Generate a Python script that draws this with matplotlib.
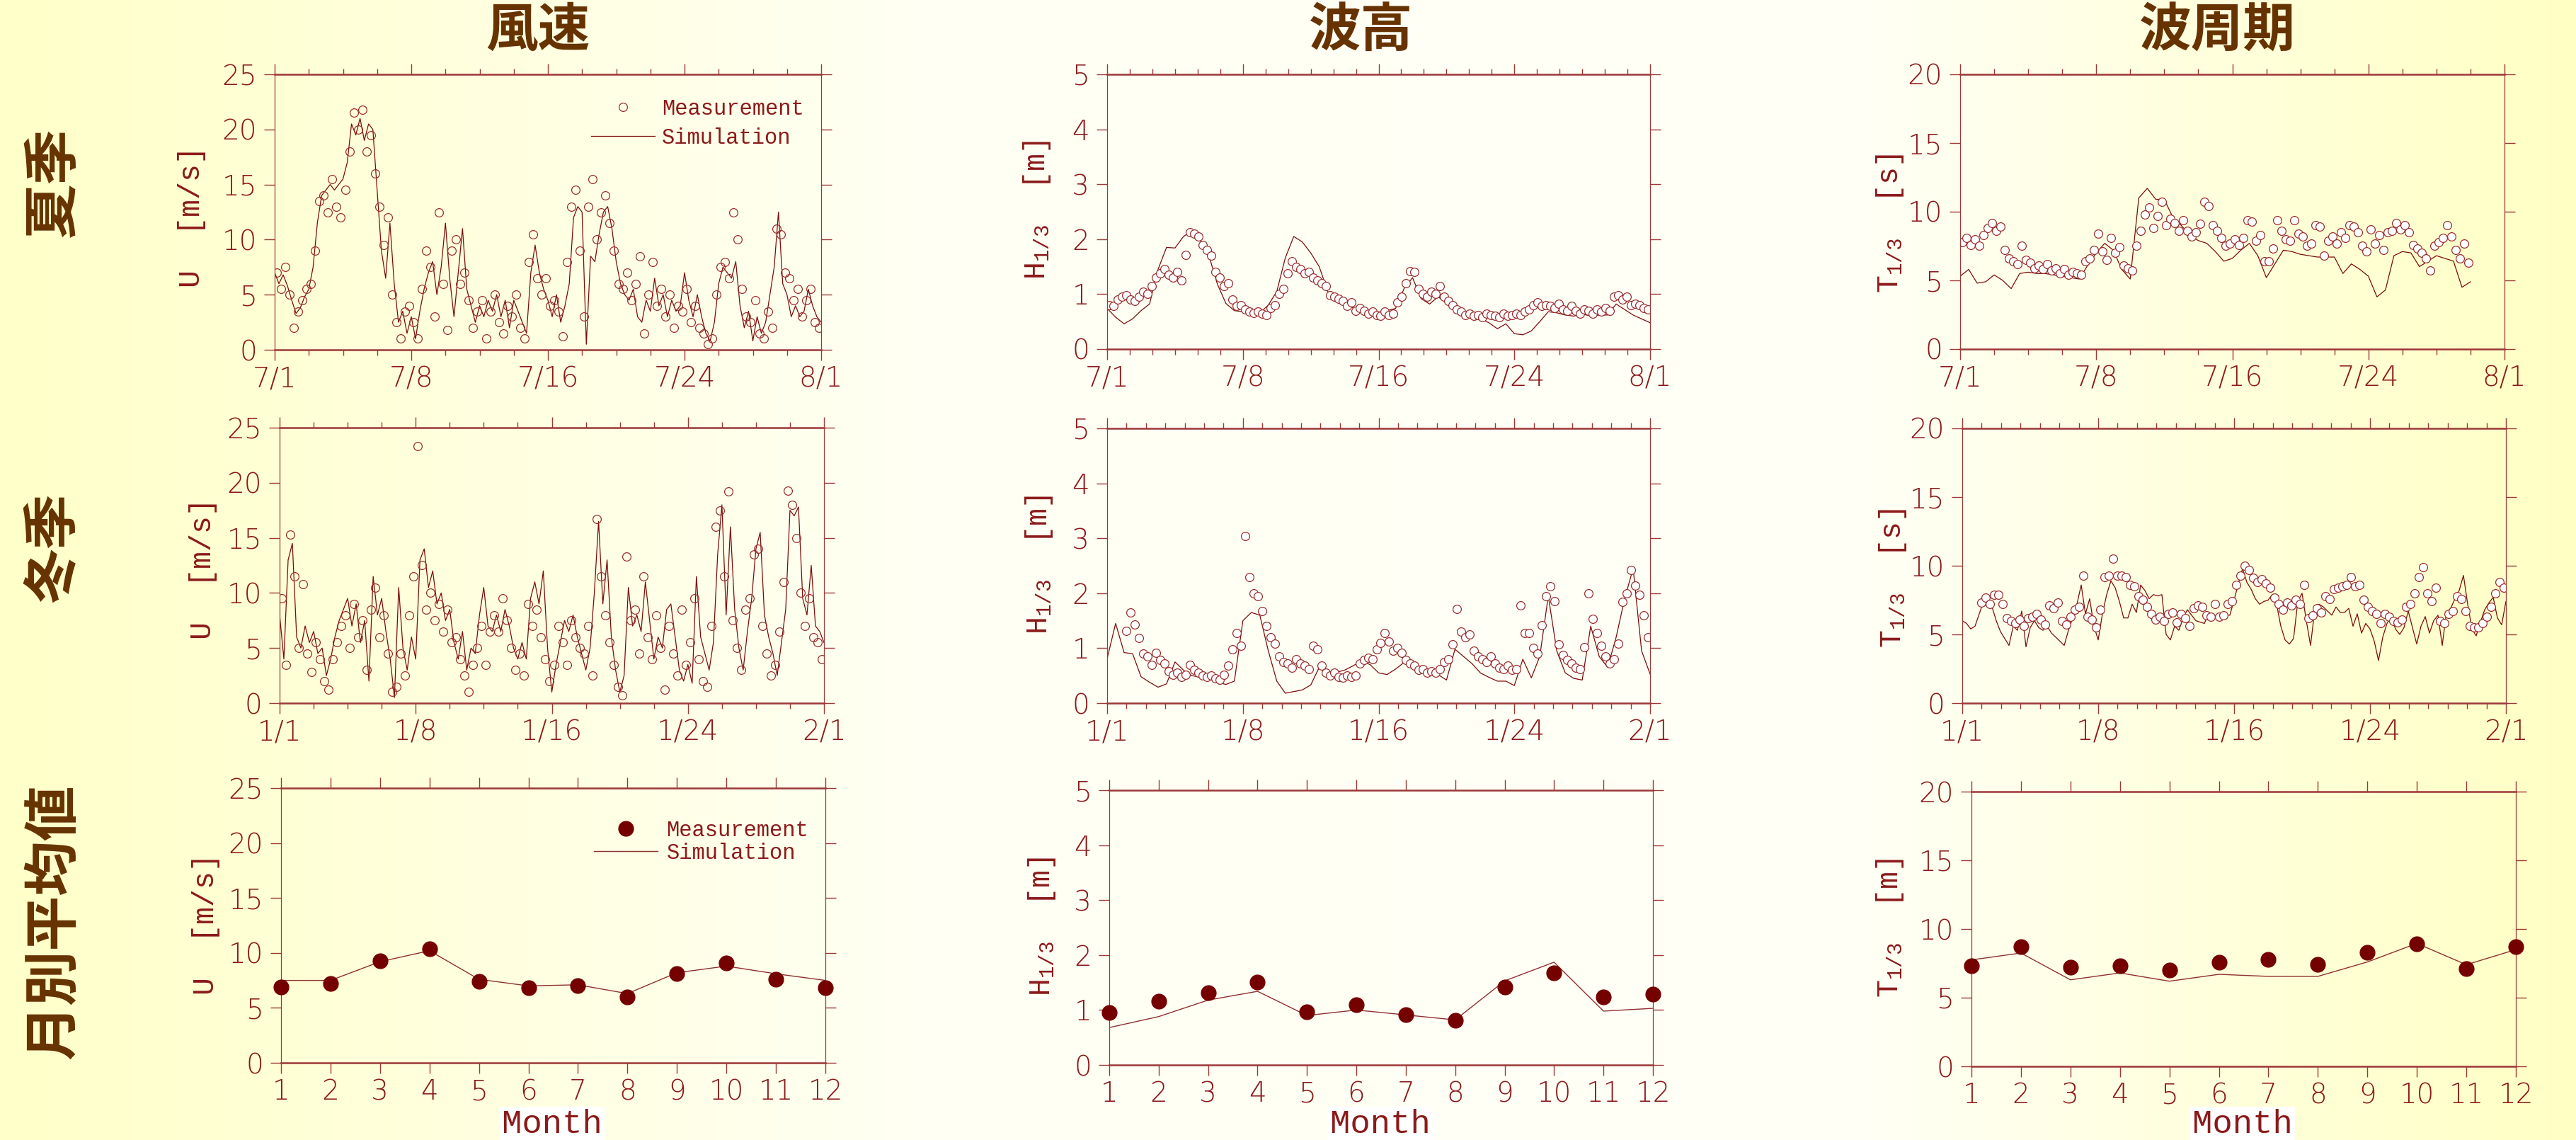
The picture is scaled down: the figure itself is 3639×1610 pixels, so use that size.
"""Wind speed, wave height and wave period: measurement vs simulation"""

import numpy as np
import matplotlib.pyplot as plt
from matplotlib.colors import LinearSegmentedColormap

plt.rcParams['font.family'] = ['DejaVu Sans']
plt.rcParams['font.weight'] = 'light'
plt.rcParams['mathtext.fontset'] = 'custom'
plt.rcParams['mathtext.rm'] = 'Liberation Mono'
plt.rcParams['mathtext.it'] = 'Liberation Mono'

# ---- data (x in axis units: 0..32 over one month) ----
summer_ticks = ['7/1', '7/8', '7/16', '7/24', '8/1']
winter_ticks = ['1/1', '1/8', '1/16', '1/24', '2/1']
months = list(range(1, 13))

wind_sum_sim = [7.0, 6.0, 6.8, 5.8, 4.5, 3.3, 3.8, 4.8, 5.5, 7.5,
                11.5, 14.0, 14.5, 15.0, 14.5, 15.0, 15.5, 17.0, 20.5, 19.5,
                21.0, 19.0, 20.5, 20.0, 14.5, 9.0, 6.5, 11.5, 6.0, 2.5,
                3.5, 1.5, 3.0, 1.0, 3.5, 5.5, 7.0, 8.0, 5.0, 7.5,
                11.5, 6.5, 3.0, 7.0, 11.0, 5.5, 4.0, 2.5, 4.0, 3.0,
                4.5, 3.5, 5.0, 3.0, 4.5, 2.0, 4.5, 3.5, 2.5, 1.5,
                7.0, 9.5, 7.0, 5.5, 4.5, 3.0, 5.0, 2.5, 4.0, 6.0,
                12.0, 13.0, 12.5, 0.5, 8.5, 8.0, 10.5, 12.5, 13.0, 11.0,
                8.0, 6.0, 5.0, 4.5, 5.5, 3.0, 2.5, 4.5, 3.5, 6.5,
                4.0, 5.0, 3.0, 4.5, 3.5, 4.0, 7.0, 4.5, 3.0, 5.0,
                3.0, 1.5, 0.8, 2.5, 6.0, 7.5, 7.0, 6.5, 8.0, 4.0,
                2.0, 3.5, 0.8, 3.0, 1.5, 2.5, 5.0, 7.5, 12.5, 6.0,
                5.0, 3.0, 4.0, 3.0, 3.5, 5.5, 4.0, 3.0, 2.5]
wind_sum_obs = [7.0, 5.5, 7.5, 5.0, 2.0, 3.5, 4.5, 5.5, 6.0, 9.0,
                13.5, 14.0, 12.5, 15.5, 13.0, 12.0, 14.5, 18.0, 21.5, 20.0,
                21.8, 18.0, 19.5, 16.0, 13.0, 9.5, 12.0, 5.0, 2.5, 1.0,
                3.5, 4.0, 2.5, 1.0, 5.5, 9.0, 7.5, 3.0, 12.5, 6.0,
                1.8, 9.0, 10.0, 6.0, 7.0, 4.5, 2.0, 3.5, 4.5, 1.0,
                3.5, 5.0, 2.5, 1.5, 4.0, 3.0, 5.0, 2.0, 1.0, 8.0,
                10.5, 6.5, 5.0, 6.5, 4.0, 4.5, 3.5, 1.2, 8.0, 13.0,
                14.5, 9.0, 3.0, 13.0, 15.5, 10.0, 12.5, 14.0, 11.5, 9.0,
                6.0, 5.5, 7.0, 4.5, 6.0, 8.5, 1.5, 5.0, 8.0, 4.0,
                5.5, 3.0, 5.0, 2.0, 4.0, 3.5, 5.5, 2.5, 4.0, 2.0,
                1.5, 0.5, 1.0, 5.0, 7.5, 8.0, 6.5, 12.5, 10.0, 5.5,
                3.0, 2.5, 4.5, 1.5, 1.0, 3.5, 2.0, 11.0, 10.5, 7.0,
                6.5, 4.5, 5.5, 3.0, 4.5, 5.5, 2.5, 2.0]

wind_win_sim = [8.0, 4.0, 13.0, 14.5, 6.0, 5.0, 7.0, 5.5, 6.5, 4.5,
                5.0, 2.5, 4.0, 6.0, 7.5, 8.5, 9.5, 7.0, 9.0, 5.5,
                7.5, 2.0, 11.5, 8.0, 9.5, 6.5, 4.0, 0.5, 10.5, 5.0,
                3.0, 6.0, 4.0, 13.0, 14.0, 10.5, 12.0, 9.0, 10.0, 7.5,
                8.5, 5.5, 4.0, 6.5, 3.0, 5.0, 4.5, 8.0, 10.5, 7.0,
                6.5, 8.0, 6.5, 8.5, 7.0, 5.0, 4.0, 5.5, 4.0, 9.5,
                11.0, 9.0, 12.0, 5.0, 1.0, 3.5, 5.5, 7.5, 6.5, 8.0,
                6.0, 4.5, 3.0, 5.0, 10.0, 16.5, 9.0, 13.0, 6.0, 3.0,
                1.0, 2.5, 10.5, 7.0, 8.0, 6.5, 11.0, 7.5, 4.0, 6.0,
                5.0, 8.5, 9.0, 6.0, 3.0, 2.0, 3.5, 1.8, 11.5, 6.0,
                4.5, 3.0, 5.5, 13.5, 18.0, 8.0, 16.0, 8.5, 5.0, 3.0,
                6.5, 9.5, 14.0, 15.5, 8.0, 6.0, 4.5, 2.5, 5.5, 8.5,
                17.5, 17.0, 17.8, 9.5, 8.0, 12.5, 7.0, 6.5, 5.5]
wind_win_obs = [9.5, 3.5, 15.3, 11.5, 5.0, 10.8, 4.5, 2.8, 5.5, 4.0,
                2.0, 1.2, 4.0, 5.5, 7.0, 8.0, 5.0, 9.0, 6.0, 7.5,
                3.0, 8.5, 10.5, 6.0, 8.0, 4.5, 1.0, 1.5, 4.5, 2.5,
                8.0, 11.5, 23.3, 12.5, 8.5, 10.0, 7.5, 9.0, 6.5, 8.5,
                5.5, 6.0, 4.0, 2.5, 1.0, 3.5, 5.0, 7.0, 3.5, 6.5,
                8.0, 6.5, 9.5, 7.5, 5.0, 3.0, 4.5, 2.5, 9.0, 7.0,
                8.5, 6.0, 4.0, 2.0, 3.5, 7.0, 5.5, 3.5, 7.5, 6.0,
                5.0, 4.5, 7.0, 2.5, 16.7, 11.5, 8.0, 5.5, 3.5, 1.5,
                0.7, 13.3, 7.5, 8.5, 4.5, 11.5, 6.0, 4.0, 8.0, 5.0,
                1.2, 7.0, 4.5, 2.5, 8.5, 3.5, 5.5, 9.5, 4.0, 2.0,
                1.5, 7.0, 16.0, 17.5, 11.5, 19.2, 7.5, 5.0, 3.0, 8.5,
                9.5, 13.5, 14.0, 7.0, 4.5, 2.5, 3.5, 6.5, 11.0, 19.3,
                18.0, 15.0, 10.0, 7.0, 9.5, 6.0, 5.5, 4.0]

hs_sum_sim = [0.74, 0.58, 0.46, 0.55, 0.70, 0.82, 1.45, 1.85, 1.84, 2.05,
              2.15, 1.98, 1.70, 1.18, 0.83, 0.70, 0.68, 0.67, 0.66, 0.80,
              1.05, 1.66, 2.05, 1.95, 1.75, 1.50, 1.05, 0.90, 0.83, 0.75,
              0.70, 0.65, 0.66, 0.70, 0.74, 1.10, 1.30, 0.92, 0.82, 0.95,
              0.85, 0.72, 0.68, 0.60, 0.55, 0.48, 0.37, 0.46, 0.28, 0.26,
              0.33, 0.50, 0.68, 0.66, 0.62, 0.60, 0.64, 0.60, 0.62, 0.62,
              0.82, 0.72, 0.62, 0.55, 0.48]
hs_sum_obs = [0.80, 0.78, 0.90, 0.95, 0.98, 0.90, 0.88, 0.95, 1.05, 1.00,
              1.15, 1.30, 1.38, 1.45, 1.35, 1.30, 1.40, 1.25, 1.72, 2.12,
              2.10, 2.05, 1.90, 1.80, 1.70, 1.40, 1.30, 1.15, 1.20, 0.90,
              0.78, 0.80, 0.72, 0.68, 0.66, 0.68, 0.65, 0.62, 0.75, 0.80,
              1.00, 1.10, 1.38, 1.60, 1.50, 1.45, 1.38, 1.40, 1.30, 1.25,
              1.20, 1.15, 0.98, 0.95, 0.92, 0.88, 0.78, 0.85, 0.70, 0.75,
              0.70, 0.65, 0.68, 0.62, 0.60, 0.68, 0.62, 0.65, 0.85, 0.95,
              1.20, 1.42, 1.40, 1.10, 1.00, 0.95, 1.05, 1.00, 1.15, 0.95,
              0.88, 0.80, 0.72, 0.68, 0.62, 0.65, 0.60, 0.62, 0.58, 0.64,
              0.62, 0.60, 0.58, 0.64, 0.60, 0.62, 0.65, 0.62, 0.68, 0.72,
              0.80, 0.85, 0.78, 0.80, 0.78, 0.75, 0.82, 0.72, 0.70, 0.78,
              0.70, 0.65, 0.72, 0.70, 0.65, 0.72, 0.68, 0.75, 0.70, 0.95,
              0.98, 0.90, 0.95, 0.80, 0.82, 0.80, 0.75, 0.72]

hs_win_sim = [0.81, 1.45, 0.92, 0.90, 0.48, 0.38, 0.29, 0.35, 0.75, 0.60,
              0.50, 0.47, 0.45, 0.38, 0.34, 0.40, 1.50, 1.65, 1.60, 0.95,
              0.40, 0.18, 0.21, 0.24, 0.33, 0.65, 0.58, 0.56, 0.60, 0.68,
              0.77, 0.70, 0.55, 0.52, 0.62, 0.74, 0.62, 0.55, 0.55, 0.52,
              0.42, 0.98, 0.85, 0.72, 0.55, 0.47, 0.40, 0.40, 0.32, 0.80,
              0.46, 0.85, 1.95, 0.95, 0.55, 0.45, 0.42, 1.40, 0.85, 0.65,
              1.20, 1.90, 2.45, 0.95, 0.53]
hs_win_obs = [1.32, 1.65, 1.43, 1.18, 0.90, 0.85, 0.70, 0.92, 0.78, 0.72,
              0.58, 0.52, 0.55, 0.48, 0.52, 0.70, 0.60, 0.55, 0.50, 0.48,
              0.50, 0.45, 0.42, 0.52, 0.68, 0.98, 1.28, 1.05, 3.04, 2.30,
              2.00, 1.95, 1.67, 1.40, 1.20, 1.08, 0.85, 0.75, 0.72, 0.65,
              0.80, 0.72, 0.68, 0.62, 1.05, 0.98, 0.68, 0.55, 0.50, 0.55,
              0.48, 0.46, 0.50, 0.48, 0.50, 0.72, 0.78, 0.82, 0.80, 0.98,
              1.10, 1.28, 1.12, 0.95, 1.00, 0.92, 0.78, 0.72, 0.68, 0.60,
              0.62, 0.55, 0.58, 0.55, 0.62, 0.75, 0.80, 1.07, 1.71, 1.30,
              1.20, 1.25, 0.95, 0.85, 0.80, 0.75, 0.85, 0.72, 0.65, 0.62,
              0.68, 0.60, 0.62, 1.78, 1.28, 1.28, 1.00, 0.90, 1.42, 1.95,
              2.12, 1.85, 1.07, 0.88, 0.78, 0.72, 0.65, 0.62, 1.02, 2.00,
              1.53, 1.28, 1.05, 0.85, 0.72, 0.80, 1.08, 1.84, 2.00, 2.42,
              2.14, 1.97, 1.60, 1.20]

tp_sum_sim = [5.3, 5.8, 4.8, 4.9, 5.4, 5.0, 4.4, 5.5, 5.6, 5.5,
              5.5, 5.4, 5.3, 5.2, 5.1, 6.1, 7.0, 7.7, 7.2, 5.8,
              5.1, 11.0, 11.7, 10.9, 10.9, 9.6, 9.0, 8.3, 7.9, 7.7,
              7.1, 6.4, 6.6, 7.2, 7.7, 6.8, 5.2, 6.2, 7.2, 7.1,
              6.9, 6.8, 6.7, 6.7, 6.7, 5.5, 6.2, 5.8, 5.3, 3.8,
              4.3, 6.8, 7.1, 7.0, 6.0, 6.4, 6.8, 6.6, 6.4, 4.5, 4.9]
tp_sum_obs = [7.8, 8.1, 7.6, 8.0, 7.5, 8.3, 8.8, 9.2, 8.6, 8.9,
              7.2, 6.6, 6.4, 6.2, 7.5, 6.5, 6.3, 5.9, 6.1, 5.8,
              6.2, 5.7, 5.9, 5.5, 5.8, 5.4, 5.6, 5.5, 5.4, 6.4,
              6.6, 7.2, 8.4, 7.1, 6.5, 8.1, 7.0, 7.4, 6.1, 5.9,
              5.7, 7.5, 8.6, 9.8, 10.3, 8.8, 9.7, 10.7, 9.0, 9.5,
              9.2, 8.6, 9.4, 8.6, 8.2, 8.5, 9.1, 10.7, 10.4, 9.0,
              8.6, 8.1, 7.5, 7.7, 8.0, 7.6, 8.1, 9.4, 9.3, 7.9,
              8.3, 6.4, 6.4, 7.3, 9.4, 8.6, 8.0, 7.9, 9.4, 8.4,
              8.2, 7.5, 7.7, 9.0, 8.9, 6.8, 7.9, 8.2, 7.7, 8.5,
              8.1, 9.0, 8.9, 8.5, 7.5, 7.1, 8.7, 7.7, 8.3, 7.2,
              8.5, 8.6, 9.2, 8.7, 9.0, 8.5, 7.6, 7.3, 7.0, 6.6,
              5.7, 7.5, 7.8, 8.1, 9.0, 8.2, 7.2, 6.6, 7.7, 6.3]

tp_win_sim = [6.0, 5.8, 5.4, 5.6, 6.5, 7.4, 7.4, 7.0, 6.0, 5.2,
              4.7, 4.2, 5.6, 5.3, 6.7, 4.1, 5.5, 6.0, 5.5, 5.3,
              5.6, 5.1, 4.8, 4.5, 4.2, 5.3, 6.2, 7.2, 8.6, 6.5,
              7.6, 5.6, 4.6, 6.5, 7.9, 8.9, 8.4, 7.4, 6.2, 6.2,
              7.2, 6.6, 8.6, 8.2, 7.6, 7.9, 7.8, 7.9, 5.0, 4.6,
              5.6, 5.3, 6.2, 6.8, 6.4, 6.0, 5.9, 5.8, 6.5, 6.5,
              6.2, 6.0, 6.4, 6.4, 7.5, 8.7, 9.8, 8.8, 8.3, 7.6,
              7.2, 7.4, 7.5, 7.9, 7.2, 5.6, 4.6, 4.3, 4.7, 7.4,
              8.0, 6.0, 4.2, 6.8, 7.2, 7.0, 6.7, 6.4, 7.0, 6.6,
              6.6, 6.9, 5.6, 6.5, 5.1, 5.8, 5.4, 4.5, 3.1, 4.8,
              5.8, 6.3, 5.4, 5.0, 5.5, 6.7, 5.5, 4.3, 5.6, 6.3,
              5.1, 6.0, 6.4, 4.2, 6.6, 6.9, 7.6, 8.2, 9.3, 7.2,
              5.4, 4.9, 5.9, 6.8, 7.3, 7.7, 6.2, 5.7, 7.4]
tp_win_obs = [7.3, 7.7, 7.2, 7.9, 7.9, 7.2, 6.2, 6.0, 5.8, 6.1,
              5.6, 6.2, 6.3, 6.5, 6.1, 5.7, 7.1, 6.9, 7.3, 6.0,
              5.7, 6.3, 6.8, 7.0, 9.3, 6.3, 6.1, 5.5, 6.8, 9.2,
              9.3, 10.5, 9.3, 9.3, 9.2, 8.6, 8.5, 7.8, 7.5, 7.0,
              6.5, 6.1, 6.3, 6.0, 6.5, 6.6, 5.9, 6.5, 6.2, 5.6,
              6.9, 7.1, 7.0, 6.4, 6.3, 7.2, 6.3, 6.4, 7.2, 7.4,
              8.6, 9.3, 10.0, 9.7, 9.1, 8.8, 9.0, 8.7, 8.4, 7.7,
              7.2, 6.8, 7.3, 7.1, 7.5, 7.2, 8.6, 6.2, 6.4, 6.9,
              6.6, 7.8, 7.6, 8.3, 8.4, 8.5, 8.6, 9.2, 8.5, 8.6,
              7.5, 7.0, 6.7, 6.5, 5.8, 6.5, 6.3, 6.0, 5.9, 6.1,
              7.0, 7.2, 8.0, 9.2, 9.9, 8.0, 7.4, 8.4, 6.0, 5.8,
              6.5, 6.7, 7.8, 7.6, 6.7, 5.6, 5.5, 5.5, 5.8, 6.3,
              7.0, 8.0, 8.8, 8.4]

wind_month_obs = [6.9, 7.2, 9.3, 10.4, 7.4, 6.8, 7.0, 6.0, 8.1, 9.1, 7.6, 6.8]
wind_month_sim = [7.5, 7.5, 9.2, 10.2, 7.6, 7.0, 7.1, 6.3, 8.2, 8.8, 8.1, 7.5]
hs_month_obs = [0.96, 1.16, 1.31, 1.51, 0.97, 1.09, 0.92, 0.81, 1.42, 1.67, 1.24, 1.29]
hs_month_sim = [0.68, 0.88, 1.18, 1.34, 0.90, 1.00, 0.91, 0.82, 1.53, 1.87, 0.98, 1.03]
tp_month_obs = [7.3, 8.7, 7.2, 7.3, 7.0, 7.6, 7.8, 7.4, 8.3, 8.9, 7.1, 8.7]
tp_month_sim = [7.75, 8.25, 6.3, 6.8, 6.2, 6.7, 6.55, 6.55, 7.6, 8.95, 7.4, 8.5]

# ---- style ----
AX = '#9c3838'
LINE = '#7a0b0b'
MK = '#9a2f2f'
TXT = '#8b1a1a'
TITLE = '#663300'
MONO = 'Liberation Mono'
CJK = 'Noto Sans CJK JP'

W, H = 3639, 1610
fig = plt.figure(figsize=(W / 100, H / 100), dpi=100)

bg = fig.add_axes([0, 0, 1, 1], zorder=-10)
bg_cmap = LinearSegmentedColormap.from_list(
    'bg', [(0, '#ffffc9'), (0.36, '#fffff4'), (0.72, '#fffff6'), (1, '#ffffc4')])
bg.imshow(np.linspace(0, 1, 512)[None, :], aspect='auto', cmap=bg_cmap,
          extent=[0, 1, 0, 1])
bg.axis('off')


def add_ax(left, right, top, bottom):
    return fig.add_axes([left / W, 1 - bottom / H, (right - left) / W, (bottom - top) / H])


def style(ax, ymax, ystep):
    ax.patch.set_alpha(0)
    ax.set_ylim(0, ymax)
    ax.set_yticks(np.arange(0, ymax + 0.001, ystep))
    for s in ['left', 'right']:
        ax.spines[s].set_linewidth(0.9)
        ax.spines[s].set_color(AX)
    for s in ['top', 'bottom']:
        ax.spines[s].set_linewidth(1.8)
        ax.spines[s].set_color(AX)
    ax.tick_params(which='both', direction='out', top=True, right=True,
                   color=AX, labelcolor=TXT, labelsize=28, width=1)
    ax.tick_params(which='major', length=11)
    ax.tick_params(which='minor', length=6)
    ax.tick_params(axis='x', pad=5)
    ax.tick_params(axis='y', pad=7)


def time_panel(ax, sim, obs, t0, t1, o0, o1, labels, nminor, ymax, ystep, mfc):
    ts = np.linspace(t0, t1, len(sim))
    to = np.linspace(o0, o1, len(obs))
    ln, = ax.plot(ts, sim, '-', color=LINE, lw=0.9)
    pt, = ax.plot(to, obs, 'o', ms=8.5, mfc=mfc, mec=MK, mew=0.9)
    ax.set_xlim(0, 32)
    ax.set_xticks([0, 8, 16, 24, 32])
    ax.set_xticklabels(labels)
    ax.set_xticks(np.linspace(0, 32, nminor + 1), minor=True)
    style(ax, ymax, ystep)
    return pt, ln


def month_panel(ax, obs, sim, ymax, ystep):
    ln, = ax.plot(months, sim, '-', color='#8e3030', lw=1.0)
    pt, = ax.plot(months, obs, 'o', ms=15, color='#750000', clip_on=False, zorder=5)
    ax.set_xlim(1, 12)
    ax.set_xticks(months)
    style(ax, ymax, ystep)
    return pt, ln


# top row: summer
a1 = add_ax(388, 1160, 105, 494)
h = time_panel(a1, wind_sum_sim, wind_sum_obs, 0, 32, 0.125, 31.875,
               summer_ticks, 16, 25, 5, 'none')
a1.legend(h, ['Measurement', 'Simulation'], loc='upper right',
          bbox_to_anchor=(0.969, 0.913), frameon=False,
          prop={'family': MONO, 'size': 22}, labelcolor=TXT,
          handlelength=2.94, handletextpad=0.33, labelspacing=0.35,
          borderpad=0, borderaxespad=0)
a2 = add_ax(1564, 2331, 105, 493)
time_panel(a2, hs_sum_sim, hs_sum_obs, 0, 32, 0.125, 31.875,
           summer_ticks, 24, 5, 1, 'white')
a3 = add_ax(2769, 3538, 105, 493)
time_panel(a3, tp_sum_sim, tp_sum_obs, 0, 30, 0.125, 29.875,
           summer_ticks, 16, 20, 5, 'white')

# middle row: winter
b1 = add_ax(395, 1164, 604, 993)
time_panel(b1, wind_win_sim, wind_win_obs, 0, 32, 0.125, 31.875,
           winter_ticks, 16, 25, 5, 'none')
b2 = add_ax(1564, 2331, 605, 993)
time_panel(b2, hs_win_sim, hs_win_obs, 0, 32, 1.125, 31.875,
           winter_ticks, 28, 5, 1, 'white')
b3 = add_ax(2772, 3540, 605, 993)
time_panel(b3, tp_win_sim, tp_win_obs, 0, 32, 1.125, 31.875,
           winter_ticks, 28, 20, 5, 'white')

# bottom row: monthly means
c1 = add_ax(397, 1166, 1113, 1501)
h = month_panel(c1, wind_month_obs, wind_month_sim, 25, 5)
c1.legend(h, ['Measurement', 'Simulation'], loc='upper right',
          bbox_to_anchor=(0.969, 0.884), frameon=False,
          prop={'family': MONO, 'size': 22}, labelcolor=TXT,
          handlelength=2.94, handletextpad=0.4, labelspacing=0.05,
          borderpad=0, borderaxespad=0)
c2 = add_ax(1567, 2335, 1116, 1504)
month_panel(c2, hs_month_obs, hs_month_sim, 5, 1)
c3 = add_ax(2785, 3554, 1118, 1506)
month_panel(c3, tp_month_obs, tp_month_sim, 20, 5)

# y labels
ylabels = [(271, 306, 'U  [m/s]'), (1465, 296, r'H$_{1/3}$  [m]'), (2670, 315, r'T$_{1/3}$  [s]'),
           (287, 803, 'U  [m/s]'), (1468, 797, r'H$_{1/3}$  [m]'), (2674, 816, r'T$_{1/3}$  [s]'),
           (291, 1305, 'U  [m/s]'), (1472, 1308, r'H$_{1/3}$  [m]'), (2670, 1310, r'T$_{1/3}$  [m]')]
for x, y, s in ylabels:
    fig.text(x / W, 1 - y / H, s, rotation=90, ha='center', va='center',
             family=MONO, weight='normal', size=30, color=TXT)

# Month labels
for x in [780, 1950, 3168]:
    fig.text(x / W, 1 - 1588 / H, 'Month', ha='center', va='center',
             family=MONO, weight='normal', size=34, color=TXT,
             bbox=dict(facecolor='white', edgecolor='none', pad=2))

# column titles and row labels
for x, s in [(760, '風速'), (1923, '波高'), (3132, '波周期')]:
    fig.text(x / W, 1 - 44 / H, s, ha='center', va='center', family=CJK,
             weight='bold', size=53, color=TITLE)
for y, s in [(257, '夏季'), (773, '冬季'), (1302, '月別平均値')]:
    fig.text(76 / W, 1 - y / H, s, rotation=90, ha='center', va='center',
             family=CJK, weight='bold', size=56, color=TITLE)

plt.savefig('out.png', dpi=100)
